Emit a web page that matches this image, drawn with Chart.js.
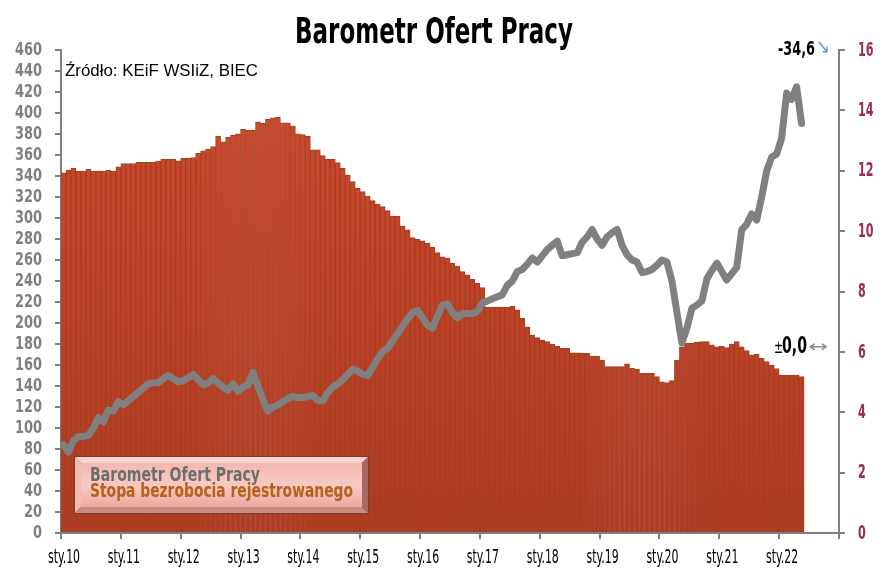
<!DOCTYPE html>
<html>
<head>
<meta charset="utf-8">
<script src="https://cdn.jsdelivr.net/npm/chart.js@4.4.0/dist/chart.umd.min.js"></script>
<style>
html,body{margin:0;padding:0;background:#fff;}
#wrap{width:882px;height:574px;position:relative;}
</style>
</head>
<body>
<div id="wrap"><canvas id="c" width="882" height="574"></canvas></div>
<script>
// ---- DATA ----
const tickLabels = ['sty.10','sty.11','sty.12','sty.13','sty.14','sty.15','sty.16','sty.17','sty.18','sty.19','sty.20','sty.21','sty.22'];

// Stopa bezrobocia rejestrowanego (%), monthly from sty.10 (right axis)
const unemployment = [
 11.93,12.02,12.08,11.99,11.99,12.05,11.99,11.99,11.99,12.02,11.99,12.13,
 12.24,12.24,12.24,12.28,12.28,12.28,12.28,12.32,12.38,12.38,12.38,12.33,
 12.41,12.41,12.44,12.58,12.66,12.72,12.80,13.15,12.96,13.11,13.18,13.22,
 13.37,13.35,13.35,13.62,13.57,13.71,13.75,13.77,13.59,13.59,13.48,13.22,
 13.20,13.15,12.69,12.69,12.50,12.38,12.38,12.27,12.08,11.86,11.64,11.42,
 11.31,11.16,11.01,10.90,10.81,10.68,10.50,10.50,10.17,10.04,9.79,9.73,
 9.68,9.60,9.46,9.29,9.15,9.10,8.93,8.84,8.66,8.55,8.40,8.27,
 8.13,7.48,7.48,7.48,7.48,7.48,7.52,7.39,7.11,6.83,6.56,6.47,
 6.39,6.34,6.26,6.19,6.12,6.12,5.97,5.97,5.95,5.95,5.86,5.86,
 5.73,5.51,5.51,5.51,5.51,5.60,5.46,5.42,5.29,5.29,5.29,5.18,
 5.01,4.98,5.05,5.73,6.17,6.28,6.28,6.32,6.34,6.34,6.23,6.17,
 6.19,6.14,6.26,6.34,6.17,6.04,5.90,5.92,5.79,5.68,5.56,5.45,
 5.23,5.23,5.23,5.23,5.18
];

// Barometr Ofert Pracy (index), monthly from sty.10 (left axis)
const barometr = [
 84,77,88,92,92,93,100,110,106,117,116,125,
 122,126,130,134,138,142,143,143,147,150,147,144,
 145,148,151,146,141,143,147,143,139,136,142,135,
 139,141,153,140,127,116,120,122,125,128,130,129,
 129,130,131,126,126,134,139,142,146,151,156,154,
 151,150,158,166,173,176,183,190,197,204,210,212,
 205,198,195,207,217,218,210,205,209,209,209,211,
 219,221,223,225,227,236,240,249,251,256,262,258,
 264,270,274,278,264,265,266,267,277,282,289,280,
 274,282,286,289,274,265,260,258,248,249,251,255,
 260,258,240,210,181,195,214,217,221,242,250,257,
 249,241,247,253,289,294,304,298,320,345,358,361,
 376,419,413,425,390
];

const seriesNames = ['Barometr Ofert Pracy', 'Stopa bezrobocia rejestrowanego'];
const titleText = 'Barometr Ofert Pracy';
const sourceText = 'Źródło: KEiF WSIiZ, BIEC';
const changeBarometr = '-34,6';
const changeUnemp = '0,0';

// ---- STYLE ----
const COND = '"DejaVu Sans Condensed", "DejaVu Sans", sans-serif';
const AXIS = '#808080';
const CLEAR = 'rgba(0,0,0,0)';

function fitText(ctx, text, x, y, font, color, width, align, sx, baseline) {
  ctx.save();
  ctx.font = font;
  ctx.fillStyle = color;
  ctx.textBaseline = baseline || 'alphabetic';
  ctx.textAlign = 'left';
  const m = ctx.measureText(text).width;
  const s = width ? width / m : (sx || 1);
  const w = m * s;
  const x0 = align === 'center' ? x - w / 2 : (align === 'right' ? x - w : x);
  ctx.translate(x0, y);
  ctx.scale(s, 1);
  ctx.fillText(text, 0, 0);
  ctx.restore();
}

function poly(ctx, pts, color) {
  ctx.beginPath();
  ctx.moveTo(pts[0][0], pts[0][1]);
  for (let i = 1; i < pts.length; i++) ctx.lineTo(pts[i][0], pts[i][1]);
  ctx.closePath();
  ctx.fillStyle = color;
  ctx.fill();
}

const decor = {
  id: 'decor',
  afterDraw(chart) {
    const ctx = chart.ctx;
    const a = chart.chartArea;
    const sx = chart.scales.x, yl = chart.scales.yL, yr = chart.scales.yR;

    // Axis tick labels (drawn from the library's scale ticks, narrow style)
    yl.ticks.forEach(t => {
      fitText(ctx, String(t.value), a.left - 19, yl.getPixelForValue(t.value) + 0.5,
        'bold 18px ' + COND, '#7F7F7F', 0, 'right', 0.8, 'middle');
    });
    yr.ticks.forEach(t => {
      fitText(ctx, String(t.value), a.right + 19, yr.getPixelForValue(t.value) + 0.5,
        'bold 20px ' + COND, '#9B2C5A', 0, 'left', 0.62, 'middle');
    });
    sx.ticks.forEach(t => {
      const lab = tickLabels[Math.round(t.value / 12)];
      if (lab === undefined) return;
      fitText(ctx, lab, sx.getPixelForValue(t.value) + 3, a.bottom + 30,
        '19px ' + COND, '#000', 0, 'center', 0.64);
    });

    // Title
    fitText(ctx, titleText, 434, 43, 'bold 36px ' + COND, '#000', 278, 'center');
    // Source
    fitText(ctx, sourceText, a.left + 4, 76, '16px "Liberation Sans", Arial, sans-serif', '#000', 193, 'left');

    // Legend box
    const x = 75, y = 457, w = 293, h = 56, b = 6;
    ctx.save();
    ctx.fillStyle = '#7d3a30';
    ctx.fillRect(x - 1, y - 1, w + 2, h + 2);
    poly(ctx, [[x, y], [x + w, y], [x + w - b, y + b], [x + b, y + b]], '#F8D3CF');
    poly(ctx, [[x, y], [x + b, y + b], [x + b, y + h - b], [x, y + h]], '#F1BAB4');
    poly(ctx, [[x, y + h], [x + b, y + h - b], [x + w - b, y + h - b], [x + w, y + h]], '#C98A82');
    poly(ctx, [[x + w, y], [x + w, y + h], [x + w - b, y + h - b], [x + w - b, y + b]], '#A9675F');
    const g = ctx.createLinearGradient(0, y + b, 0, y + h - b);
    g.addColorStop(0, '#F3B7B0');
    g.addColorStop(0.5, '#F8CAC5');
    g.addColorStop(1, '#EDA79F');
    ctx.fillStyle = g;
    ctx.fillRect(x + b, y + b, w - 2 * b, h - 2 * b);
    ctx.restore();
    fitText(ctx, seriesNames[0], 90, 481, 'bold 20px ' + COND, '#6E6E6E', 170, 'left');
    fitText(ctx, seriesNames[1], 90, 497, 'bold 20px ' + COND, '#B5611A', 263, 'left');

    // Change annotations
    fitText(ctx, changeBarometr, a.right - 24, 55, 'bold 19px ' + COND, '#000', 37, 'right');
    fitText(ctx, '\u2198', a.right - 23, 53, '20px "DejaVu Sans", sans-serif', '#5B9BD5', 14, 'left');
    fitText(ctx, '\u00B1', a.right - 65, 353, '17px "DejaVu Sans", sans-serif', '#000', 9, 'left');
    fitText(ctx, changeUnemp, a.right - 57, 353, 'bold 23px ' + COND, '#000', 25, 'left');
    fitText(ctx, '\u2194', a.right - 31, 352, '16px "DejaVu Sans", sans-serif', '#8C8C8C', 20, 'left');
  }
};

function barGradient(c) {
  const chart = c.chart;
  const a = chart.chartArea;
  if (!a) return '#C4442A';
  const g = chart.ctx.createLinearGradient(0, a.top, 0, a.bottom);
  g.addColorStop(0, '#CF4B2F');
  g.addColorStop(1, '#AE3A22');
  return g;
}

new Chart(document.getElementById('c'), {
  type: 'bar',
  data: {
    datasets: [
      {
        type: 'line',
        label: seriesNames[0],
        data: barometr.map((v, i) => ({ x: i + 0.5, y: v })),
        yAxisID: 'yL',
        xAxisID: 'x',
        borderColor: '#808080',
        borderWidth: 7,
        pointRadius: 0,
        tension: 0,
        borderJoinStyle: 'round',
        borderCapStyle: 'round',
        order: 1
      },
      {
        type: 'bar',
        label: seriesNames[1],
        data: unemployment.map((v, i) => ({ x: i + 0.5, y: v })),
        yAxisID: 'yR',
        xAxisID: 'x',
        backgroundColor: barGradient,
        borderColor: '#A23F1E',
        borderWidth: { left: 1, right: 1, top: 1, bottom: 0 },
        borderSkipped: 'start',
        barPercentage: 1,
        categoryPercentage: 1,
        order: 2
      }
    ]
  },
  options: {
    responsive: false,
    animation: false,
    layout: { padding: { top: 50, left: 0, right: 0, bottom: 0 } },
    plugins: { legend: { display: false }, tooltip: { enabled: false }, title: { display: false } },
    scales: {
      x: {
        type: 'linear',
        min: 0,
        max: 156,
        offset: false,
        grid: { offset: false, drawOnChartArea: false, drawTicks: true, tickLength: 6, color: AXIS, lineWidth: 2 },
        border: { display: true, color: AXIS, width: 2 },
        ticks: {
          stepSize: 12,
          autoSkip: false,
          maxRotation: 0,
          padding: 7,
          color: CLEAR,
          font: { family: COND, size: 12 },
          callback: (v) => (tickLabels[v / 12] !== undefined ? tickLabels[v / 12] : '')
        },
        afterFit: (s) => { s.height = 41; }
      },
      yL: {
        position: 'left',
        min: 0,
        max: 460,
        grid: { offset: false, drawOnChartArea: false, drawTicks: true, tickLength: 6, color: AXIS, lineWidth: 2 },
        border: { display: true, color: AXIS, width: 2 },
        ticks: { stepSize: 20, autoSkip: false, padding: 12, color: CLEAR, font: { family: COND, size: 12 } },
        afterFit: (s) => { s.width = 61; }
      },
      yR: {
        position: 'right',
        min: 0,
        max: 16,
        grid: { offset: false, drawOnChartArea: false, drawTicks: true, tickLength: 6, color: AXIS, lineWidth: 2 },
        border: { display: true, color: AXIS, width: 2 },
        ticks: { stepSize: 2, autoSkip: false, padding: 12, color: CLEAR, font: { family: COND, size: 12 } },
        afterFit: (s) => { s.width = 43; }
      }
    }
  },
  plugins: [decor]
});
</script>
</body>
</html>
